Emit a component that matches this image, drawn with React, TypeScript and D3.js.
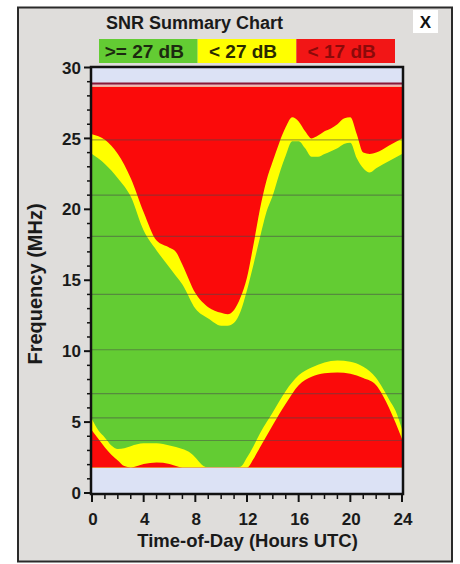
import React from "react";
import * as d3 from "d3";

// ---- data (frequency in MHz vs. hour UTC) ----
const hoursUpper = [0, 1, 2, 3, 4, 5, 6, 6.5, 7, 8, 9, 10, 10.5, 11, 11.5, 12, 12.5, 13, 13.5, 14, 14.5, 15, 15.5, 16, 16.5, 17, 17.5, 18, 18.5, 19, 19.5, 20, 20.5, 21, 21.5, 22, 23, 24];
// lower edge of the upper red (< 17 dB) region
const upperRedEdge = [25.3, 24.9, 23.9, 22.2, 19.8, 17.8, 17.3, 17.0, 16.1, 14.1, 13.1, 12.7, 12.6, 12.9, 13.8, 15.2, 17.5, 20.0, 22.0, 23.4, 24.7, 25.8, 26.5, 26.2, 25.5, 25.0, 25.2, 25.5, 25.7, 26.0, 26.4, 26.5, 25.3, 24.0, 23.9, 24.0, 24.5, 25.0];
// lower edge of the upper yellow (< 27 dB) region
const upperYellowEdge = [23.9, 23.2, 22.2, 20.9, 18.5, 17.1, 15.9, 15.3, 14.7, 13.0, 12.3, 11.8, 11.8, 12.0, 12.8, 14.3, 16.1, 18.0, 19.8, 21.0, 22.5, 23.8, 24.8, 24.8, 24.3, 23.7, 23.7, 23.9, 24.1, 24.3, 24.6, 24.7, 23.6, 22.9, 22.6, 22.9, 23.4, 23.9];

const hoursLower = [0, 0.5, 1, 1.5, 2, 2.5, 3, 4, 5, 6, 6.5, 7, 7.5, 8, 8.5, 9, 10, 11, 11.5, 12, 12.5, 13, 14, 15, 16, 17, 18, 19, 20, 21, 22, 22.5, 23, 23.5, 24];
// upper edge of the lower red (< 17 dB) region
const lowerRedEdge = [4.4, 3.8, 3.2, 2.7, 2.3, 1.9, 1.8, 2.05, 2.15, 2.05, 1.9, 1.8, 1.8, 1.8, 1.8, 1.8, 1.8, 1.8, 1.8, 1.8, 2.4, 3.2, 4.8, 6.3, 7.6, 8.2, 8.45, 8.5, 8.4, 8.1, 7.6, 6.9, 6.0, 4.95, 3.8];
// upper edge of the lower yellow (< 27 dB) region
const lowerYellowEdge = [5.2, 4.4, 3.9, 3.35, 3.1, 3.15, 3.3, 3.5, 3.5, 3.35, 3.25, 3.1, 2.9, 2.5, 2.0, 1.8, 1.8, 1.8, 1.85, 2.5, 3.3, 4.2, 5.7, 7.2, 8.3, 8.85, 9.2, 9.35, 9.25, 8.9, 8.1, 7.4, 6.6, 5.8, 4.5];

const bandLines = [3.7, 5.3, 7.0, 10.1, 14.0, 18.1, 21.0, 24.9];
const freqRange = [1.8, 28.65];
const yTicks = [0, 5, 10, 15, 20, 25, 30];
const xTicks = [0, 4, 8, 12, 16, 20, 24];
const legendItems = [">= 27 dB", "< 27 dB", "< 17 dB"];

const FONT = "'Liberation Sans', Arial, sans-serif";
const GREEN = "#63cc33";
const YELLOW = "#ffff00";
const RED = "#fb0a0a";

export default function App() {
  const x = d3.scaleLinear().domain([0, 24]).range([92, 402]);
  const y = d3.scaleLinear().domain([0, 30]).range([493, 67.5]);
  const [fLo, fHi] = freqRange;

  const upperRedArea = d3.area<number>()
    .x((_, i) => x(hoursUpper[i]))
    .y0(y(fHi) - 1)
    .y1((d) => y(d))
    .curve(d3.curveMonotoneX);
  const upperYellowArea = d3.area<number>()
    .x((_, i) => x(hoursUpper[i]))
    .y0(y(fHi) - 1)
    .y1((d) => y(d))
    .curve(d3.curveMonotoneX);
  const lowerArea = d3.area<number>()
    .x((_, i) => x(hoursLower[i]))
    .y0(y(fLo) + 1)
    .y1((d) => y(d))
    .curve(d3.curveMonotoneX);

  const legendColors = [GREEN, YELLOW, "#f21616"];
  const legendText = ["#1c2a10", "#2a2a00", "#8c0a0a"];
  const legendX = d3.scaleBand<number>().domain([0, 1, 2]).range([99, 395]);

  const minorY = d3.range(0, 31, 1);
  const minorX = d3.range(0, 25, 1);

  return (
    <svg width={460} height={564} style={{ position: "absolute", left: 0, top: 0 }} fontFamily={FONT}>
      <rect x={0} y={0} width={460} height={564} fill="#ffffff" />
      <rect x={18} y={7.5} width={434} height={554} fill="#dfdddb" stroke="#2a2a2a" strokeWidth={2} />

      {/* title */}
      <text x={194.5} y={29} textAnchor="middle" fontSize={18} fontWeight="bold" fill="#1a1a1a">SNR Summary Chart</text>

      {/* close box */}
      <rect x={413} y={10} width={25} height={23} fill="#ffffff" />
      <text x={425.5} y={28} textAnchor="middle" fontSize={17} fontWeight="bold" fill="#111">X</text>

      {/* legend */}
      {legendItems.map((lab, i) => (
        <g key={lab}>
          <rect x={legendX(i)} y={39} width={legendX.bandwidth()} height={24} fill={legendColors[i]} />
          <text x={(legendX(i) as number) + legendX.bandwidth() / 2 - 4} y={58} textAnchor="middle" fontSize={19} fontWeight="bold" fill={legendText[i]}>{lab}</text>
        </g>
      ))}

      {/* plot background */}
      <rect x={91} y={67} width={312} height={427} fill="#dce2f5" />
      <defs>
        <clipPath id="dataClip">
          <rect x={91} y={y(fHi)} width={312} height={y(fLo) - y(fHi)} />
        </clipPath>
      </defs>
      <g clipPath="url(#dataClip)">
        <rect x={91} y={y(fHi)} width={312} height={y(fLo) - y(fHi)} fill={GREEN} />
        <path d={upperYellowArea(upperYellowEdge) || ""} fill={YELLOW} />
        <path d={upperRedArea(upperRedEdge) || ""} fill={RED} />
        <path d={lowerArea(lowerYellowEdge) || ""} fill={YELLOW} />
        <path d={lowerArea(lowerRedEdge) || ""} fill={RED} />
        {bandLines.map((f) => (
          <line key={f} x1={91} x2={403} y1={y(f)} y2={y(f)} stroke="#4a4a4a" strokeOpacity={0.5} strokeWidth={1.2} />
        ))}
      </g>
      {/* top band marker lines */}
      <line x1={91} x2={403} y1={y(fHi) - 3} y2={y(fHi) - 3} stroke="#8a1838" strokeWidth={2.2} />
      <line x1={91} x2={403} y1={y(fHi) - 1} y2={y(fHi) - 1} stroke="#f3b6b6" strokeWidth={1.6} />

      {/* frame */}
      <rect x={91} y={67} width={312} height={427} fill="none" stroke="#111" strokeWidth={2.5} />

      {/* y axis ticks */}
      {minorY.map((v) => (
        <line key={"ym" + v} x1={v % 5 === 0 ? 84 : 87} x2={91} y1={y(v)} y2={y(v)} stroke="#111" strokeWidth={v % 5 === 0 ? 2 : 1.5} />
      ))}
      {yTicks.map((v) => (
        <text key={"yt" + v} x={81} y={y(v)} dy="0.36em" textAnchor="end" fontSize={17} fontWeight="bold" fill="#1a1a1a">{v}</text>
      ))}

      {/* x axis ticks */}
      {minorX.map((v) => (
        <line key={"xm" + v} x1={x(v)} x2={x(v)} y1={494} y2={v % 4 === 0 ? 502 : 499} stroke="#111" strokeWidth={v % 4 === 0 ? 2 : 1.5} />
      ))}
      {xTicks.map((v) => (
        <text key={"xt" + v} x={x(v) + 1} y={525} textAnchor="middle" fontSize={17} fontWeight="bold" fill="#1a1a1a">{v}</text>
      ))}

      {/* axis titles */}
      <text x={247.5} y={547} textAnchor="middle" fontSize={18.5} fontWeight="bold" fill="#1a1a1a">Time-of-Day (Hours UTC)</text>
      <text transform="translate(42,284) rotate(-90)" textAnchor="middle" fontSize={20} fontWeight="bold" fill="#1a1a1a">Frequency (MHz)</text>
    </svg>
  );
}
